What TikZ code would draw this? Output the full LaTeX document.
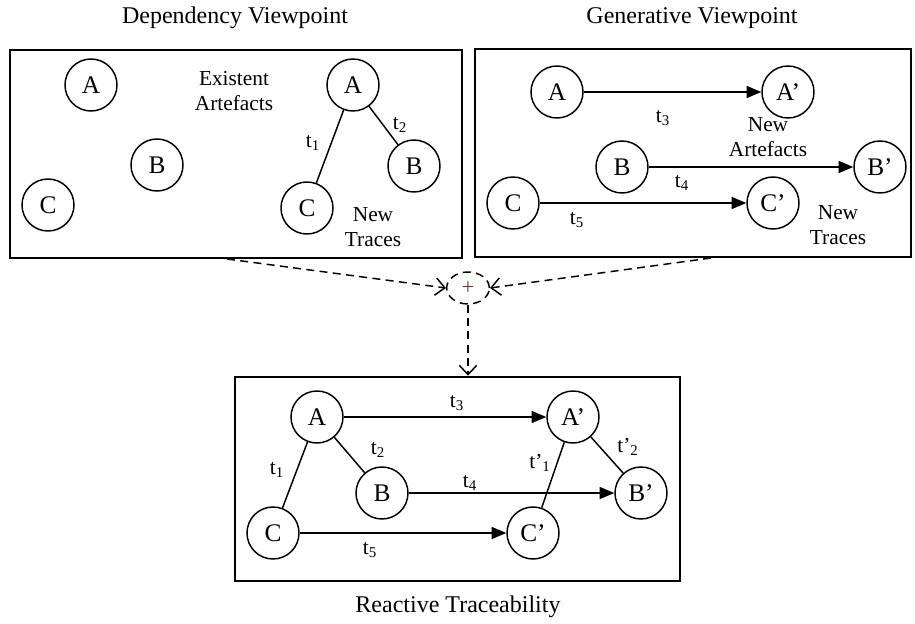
\documentclass[tikz,border=0pt]{standalone}
\usepackage{fontspec}
\setmainfont{Liberation Serif}
\usetikzlibrary{arrows.meta,shapes.geometric}
\begin{document}
\begin{tikzpicture}[x=0.75pt,y=-0.75pt,
  art/.style={circle,draw,line width=1.1pt,minimum size=39pt,inner sep=0pt,font=\fontsize{19}{19}\selectfont},
  frame/.style={draw,line width=1.9pt,inner sep=0pt},
  lbl/.style={font=\fontsize{16}{19}\selectfont,align=center,inner sep=0pt},
  ttl/.style={font=\fontsize{18}{20}\selectfont,inner sep=0pt},
  tr/.style={line width=1.1pt},
  gen/.style={line width=1.1pt,-{Triangle[length=11pt,width=9pt]}},
  merge/.style={line width=1.1pt,dash pattern=on 6pt off 4pt,-{Straight Barb[length=7pt,width=13pt]}}
]
\useasboundingbox (0,0) rectangle (915,624);
% titles
\node[ttl] (t-dep) at (235,18) {Dependency Viewpoint};
\node[ttl] (t-gen) at (692,18) {Generative Viewpoint};
\node[ttl] (t-rea) at (458,607) {Reactive Traceability};
% frames
\node[frame,minimum width=339pt,minimum height=156pt] (dep) at (236,154) {};
\node[frame,minimum width=327pt,minimum height=156pt] (gen) at (693,153) {};
\node[frame,minimum width=333.75pt,minimum height=153pt] (rea) at (457.5,479) {};
% dependency viewpoint
\node[art] (dA1) at (91,85) {A};
\node[art] (dB1) at (157,165) {B};
\node[art] (dC1) at (48,205) {C};
\node[art] (dA2) at (353,85) {A};
\node[art] (dB2) at (414,166) {B};
\node[art] (dC2) at (307,208) {C};
\node[lbl] (dExist) at (234,91) {Existent\\Artefacts};
\node[lbl] (dNew) at (373,227) {New\\Traces};
\draw[tr] (dA2) -- (dC2);
\draw[tr] (dA2) -- (dB2);
\node[lbl] (dt1) at (313,143) {t\textsubscript{1}};
\node[lbl] (dt2) at (400,125) {t\textsubscript{2}};
% generative viewpoint
\node[art] (gA) at (557,92) {A};
\node[art] (gA2) at (788,92) {A’};
\node[art] (gB) at (622,167) {B};
\node[art] (gB2) at (880,167) {B’};
\node[art] (gC) at (513,203) {C};
\node[art] (gC2) at (773,203) {C’};
\draw[gen] (gA) -- (gA2);
\draw[gen] (gB) -- (gB2);
\draw[gen] (gC) -- (gC2);
\node[lbl] (gt3) at (663,118) {t\textsubscript{3}};
\node[lbl] (gt4) at (682,183) {t\textsubscript{4}};
\node[lbl] (gt5) at (577,220) {t\textsubscript{5}};
\node[lbl] (gNewA) at (768,137) {New\\Artefacts};
\node[lbl] (gNewT) at (838,225) {New\\Traces};
% merge
\node[draw,ellipse,line width=1.1pt,dash pattern=on 6pt off 4pt,minimum width=32pt,minimum height=24pt,inner sep=0pt] (plus) at (468,288) {};
\node[font=\fontsize{17}{17}\selectfont,text={rgb,255:red,110;green,60;blue,45},inner sep=0pt] (plussign) at (468,288) {+};
\coordinate (s1) at (227,259);
\coordinate (s2) at (711,258);
\draw[merge] (s1) -- (plus.west);
\draw[merge] (s2) -- (plus.east);
\draw[merge] (plus.south) -- (plus.south |- rea.north);
% reactive traceability
\node[art] (rA) at (317,417) {A};
\node[art] (rA2) at (573,417) {A’};
\node[art] (rB) at (382,493) {B};
\node[art] (rB2) at (641,493) {B’};
\node[art] (rC) at (273,533) {C};
\node[art] (rC2) at (533,533) {C’};
\draw[tr] (rA) -- (rC);
\draw[tr] (rA) -- (rB);
\draw[tr] (rA2) -- (rC2);
\draw[tr] (rA2) -- (rB2);
\draw[gen] (rA) -- (rA2);
\draw[gen] (rB) -- (rB2);
\draw[gen] (rC) -- (rC2);
\node[lbl] (rt3) at (457,403) {t\textsubscript{3}};
\node[lbl] (rt2) at (378,450) {t\textsubscript{2}};
\node[lbl] (rt1) at (277,470) {t\textsubscript{1}};
\node[lbl] (rt4) at (470,483) {t\textsubscript{4}};
\node[lbl] (rt5) at (370,550) {t\textsubscript{5}};
\node[lbl] (rtp1) at (540,463) {t’\textsubscript{1}};
\node[lbl] (rtp2) at (628,447) {t’\textsubscript{2}};
\end{tikzpicture}
\end{document}
